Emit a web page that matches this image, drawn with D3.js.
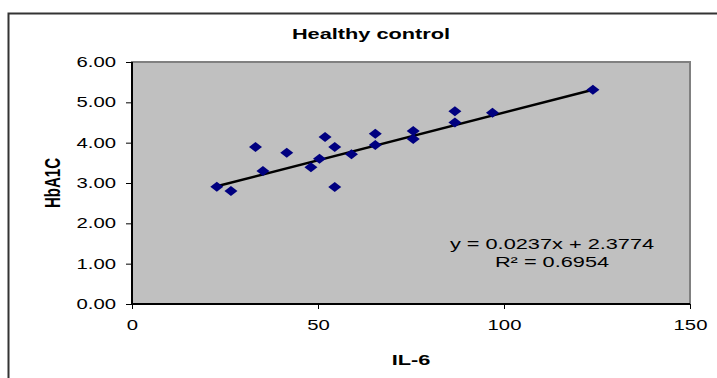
<!DOCTYPE html>
<html>
<head>
<meta charset="utf-8">
<script src="https://cdn.jsdelivr.net/npm/d3@7"></script>
<style>
  body { margin: 0; background: #fff; }
  svg { display: block; }
  .axis text { font-family: "Liberation Sans", Arial, sans-serif; font-size: 14px; fill: #000; }
  .axis path, .axis line { stroke: #000; }
</style>
</head>
<body>
<div id="chart"></div>
<script>
var w = 717, h = 378;
var sx = 1.45; // the original picture's text is stretched sideways

// values
var il6 = [22.8, 26.6, 33.2, 35.2, 41.6, 48.1, 50.4, 51.9, 54.5, 54.5,
           59.0, 65.4, 65.4, 75.6, 75.6, 86.8, 86.8, 96.9, 123.9];
var hba1c = [2.91, 2.80, 3.89, 3.30, 3.75, 3.39, 3.60, 4.14, 3.89, 2.90,
             3.71, 4.22, 3.94, 4.29, 4.09, 4.78, 4.50, 4.74, 5.31];
var slope = 0.0237, intercept = 2.3774, rSquared = 0.6954;
var xTicks = [0, 50, 100, 150];
var yTicks = [0, 1, 2, 3, 4, 5, 6];

var plotLeft = 132, plotRight = 690, plotTop = 62, plotBottom = 304;

var svg = d3.select("#chart").append("svg")
  .attr("width", w)
  .attr("height", h);

// chart area border (runs off the right/bottom of the picture)
svg.append("rect")
  .attr("x", 8.5).attr("y", 13.5)
  .attr("width", 800).attr("height", 500)
  .attr("fill", "#fff")
  .attr("stroke", "#333")
  .attr("stroke-width", 2);

var xScale = d3.scaleLinear().domain([0, 150]).range([plotLeft, plotRight]);
var yScale = d3.scaleLinear().domain([0, 6]).range([plotBottom, plotTop]);

// plot area
svg.append("rect")
  .attr("x", plotLeft).attr("y", plotTop)
  .attr("width", plotRight - plotLeft).attr("height", plotBottom - plotTop)
  .attr("fill", "#c0c0c0")
  .attr("stroke", "#808080")
  .attr("stroke-width", 2);

var xAxis = d3.axisBottom(xScale).tickValues(xTicks).tickSize(5).tickPadding(11)
  .tickFormat(d3.format("d"));
var yAxis = d3.axisLeft(yScale).tickValues(yTicks).tickSize(6).tickPadding(10)
  .tickFormat(d3.format(".2f"));

svg.append("g")
  .attr("class", "axis")
  .attr("transform", "translate(0," + plotBottom + ")")
  .call(xAxis)
  .call(function(g) {
    g.select(".domain").attr("stroke-width", 2).attr("stroke", "#333").attr("d", "M" + plotLeft + ",0H" + plotRight);
    g.selectAll(".tick text").attr("transform", "scale(" + sx + ",1)");
  });

svg.append("g")
  .attr("class", "axis")
  .attr("transform", "translate(" + plotLeft + ",0)")
  .call(yAxis)
  .call(function(g) {
    g.select(".domain").attr("stroke-width", 2).attr("stroke", "#333").attr("d", "M0," + plotTop + "V" + plotBottom);
    g.selectAll(".tick text").attr("x", -16 / sx).attr("transform", "scale(" + sx + ",1)");
  });

// trendline over the data range
var xMin = d3.min(il6), xMax = d3.max(il6);
svg.append("line")
  .attr("x1", xScale(xMin)).attr("y1", yScale(slope * xMin + intercept))
  .attr("x2", xScale(xMax)).attr("y2", yScale(slope * xMax + intercept))
  .attr("stroke", "#000")
  .attr("stroke-width", 2.5);

// diamond markers
svg.selectAll(".pt")
  .data(il6)
  .enter()
  .append("path")
  .attr("class", "pt")
  .attr("d", "M0,-5L6.5,0L0,5L-6.5,0Z")
  .attr("transform", function(d, i) {
    return "translate(" + xScale(d) + "," + yScale(hba1c[i]) + ")";
  })
  .attr("fill", "#000080");

function label(x, y, str, size, bold, rot) {
  return svg.append("text")
    .attr("transform", "translate(" + x + "," + y + ") scale(" + sx + ",1)" + (rot ? " rotate(-90)" : ""))
    .attr("text-anchor", "middle")
    .attr("font-family", "Liberation Sans, Arial, sans-serif")
    .attr("font-size", size + "px")
    .attr("font-weight", bold ? "bold" : "normal")
    .attr("fill", "#000")
    .text(str);
}

// equation label
label(552, 249, "y = " + slope + "x + " + intercept, 15, false);
label(552, 267, "R\u00b2 = " + rSquared, 15, false);

// titles
label(371, 39, "Healthy control", 15, true);
label((plotLeft + plotRight) / 2, 365, "IL-6", 15, true);
label(60, (plotTop + plotBottom) / 2, "HbA1C", 15, true, true);
</script>
</body>
</html>
